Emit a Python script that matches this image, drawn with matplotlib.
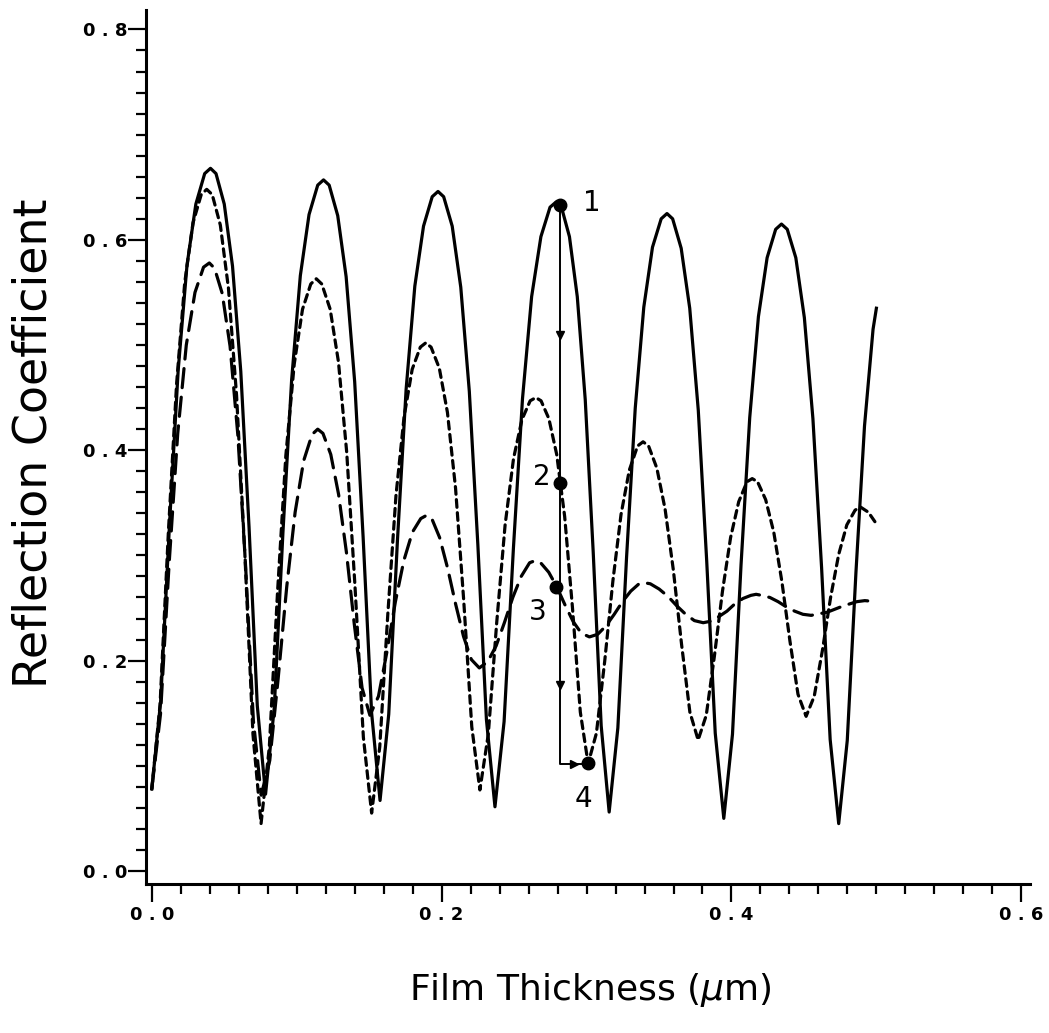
import matplotlib
matplotlib.use("Agg")
import matplotlib.pyplot as plt

# ---------------------------------------------------------------------------
# Data (film thickness in um, reflection coefficient)
# ---------------------------------------------------------------------------

solid_x = [
    0.000, 0.0061, 0.0122, 0.0182, 0.0243, 0.0304, 0.0365, 0.0405,
    0.0443, 0.0500, 0.0557, 0.0614, 0.0671, 0.0728, 0.0785,
    0.0845, 0.0905, 0.0965, 0.1025, 0.1085, 0.1145, 0.1185,
    0.1224, 0.1283, 0.1341, 0.1400, 0.1458, 0.1517, 0.1575,
    0.1635, 0.1695, 0.1755, 0.1815, 0.1875, 0.1935, 0.1975,
    0.2014, 0.2073, 0.2132, 0.2191, 0.2250, 0.2309, 0.2368,
    0.2431, 0.2495, 0.2558, 0.2621, 0.2685, 0.2748, 0.2790,
    0.2827, 0.2882, 0.2936, 0.2991, 0.3046, 0.3101, 0.3156,
    0.3216, 0.3276, 0.3336, 0.3395, 0.3455, 0.3515, 0.3555,
    0.3594, 0.3653, 0.3712, 0.3771, 0.3829, 0.3888, 0.3947,
    0.4007, 0.4066, 0.4126, 0.4186, 0.4246, 0.4305, 0.4345,
    0.4385, 0.4444, 0.4503, 0.4562, 0.4622, 0.4681, 0.4740,
    0.4799, 0.4859, 0.4918, 0.4977, 0.5000,
]
solid_y = [
    0.078, 0.161, 0.329, 0.476, 0.576, 0.634, 0.663, 0.668,
    0.663, 0.634, 0.575, 0.475, 0.327, 0.157, 0.073,
    0.155, 0.322, 0.467, 0.566, 0.624, 0.652, 0.657,
    0.652, 0.623, 0.565, 0.465, 0.318, 0.150, 0.067,
    0.149, 0.314, 0.458, 0.556, 0.613, 0.641, 0.646,
    0.641, 0.613, 0.555, 0.456, 0.310, 0.144, 0.061,
    0.142, 0.306, 0.449, 0.546, 0.603, 0.631, 0.636,
    0.631, 0.603, 0.546, 0.448, 0.303, 0.138, 0.056,
    0.136, 0.298, 0.440, 0.536, 0.593, 0.620, 0.625,
    0.620, 0.592, 0.535, 0.438, 0.295, 0.131, 0.050,
    0.130, 0.291, 0.431, 0.527, 0.583, 0.610, 0.615,
    0.610, 0.583, 0.526, 0.430, 0.288, 0.125, 0.045,
    0.124, 0.284, 0.423, 0.515, 0.535,
]

short_x = [
    0.000, 0.0057, 0.0114, 0.0171, 0.0227, 0.0284, 0.0341, 0.0379,
    0.0417, 0.0473, 0.0529, 0.0585, 0.0642, 0.0698, 0.0754,
    0.0811, 0.0868, 0.0925, 0.0983, 0.1040, 0.1097, 0.1135,
    0.1173, 0.1231, 0.1288, 0.1345, 0.1402, 0.1460, 0.1517,
    0.1573, 0.1629, 0.1685, 0.1741, 0.1797, 0.1853, 0.1890,
    0.1927, 0.1984, 0.2040, 0.2096, 0.2152, 0.2208, 0.2264,
    0.2322, 0.2380, 0.2438, 0.2496, 0.2554, 0.2611, 0.2650,
    0.2686, 0.2740, 0.2794, 0.2849, 0.2903, 0.2957, 0.3011,
    0.3068, 0.3125, 0.3182, 0.3238, 0.3295, 0.3352, 0.3390,
    0.3428, 0.3485, 0.3542, 0.3599, 0.3656, 0.3713, 0.3770,
    0.3826, 0.3882, 0.3938, 0.3994, 0.4050, 0.4107, 0.4143,
    0.4180, 0.4236, 0.4292, 0.4348, 0.4403, 0.4459, 0.4515,
    0.4571, 0.4628, 0.4684, 0.4740, 0.4796, 0.4853, 0.4890,
    0.4945, 0.5000,
]
short_y = [
    0.078, 0.158, 0.321, 0.463, 0.559, 0.616, 0.643, 0.648,
    0.643, 0.614, 0.554, 0.452, 0.302, 0.130, 0.045,
    0.118, 0.266, 0.395, 0.482, 0.534, 0.558, 0.563,
    0.558, 0.534, 0.484, 0.398, 0.271, 0.127, 0.055,
    0.118, 0.245, 0.357, 0.432, 0.477, 0.498, 0.502,
    0.498, 0.478, 0.436, 0.364, 0.258, 0.137, 0.077,
    0.130, 0.236, 0.329, 0.392, 0.429, 0.447, 0.450,
    0.447, 0.430, 0.396, 0.337, 0.250, 0.151, 0.102,
    0.131, 0.199, 0.276, 0.339, 0.381, 0.404, 0.408,
    0.404, 0.383, 0.344, 0.286, 0.215, 0.151, 0.1245,
    0.148, 0.204, 0.266, 0.317, 0.351, 0.370, 0.373,
    0.370, 0.353, 0.322, 0.275, 0.219, 0.168, 0.147,
    0.166, 0.210, 0.260, 0.301, 0.329, 0.343, 0.346,
    0.341, 0.330,
]

long_x = [
    0.000, 0.0060, 0.0119, 0.0179, 0.0238, 0.0298, 0.0357, 0.0397,
    0.0433, 0.0486, 0.0540, 0.0594, 0.0648, 0.0701, 0.0755,
    0.0814, 0.0872, 0.0931, 0.0989, 0.1048, 0.1106, 0.1145,
    0.1181, 0.1235, 0.1289, 0.1343, 0.1397, 0.1451, 0.1505,
    0.1564, 0.1622, 0.1681, 0.1739, 0.1798, 0.1856, 0.1895,
    0.1932, 0.1986, 0.2041, 0.2096, 0.2151, 0.2205, 0.2260,
    0.2318, 0.2376, 0.2433, 0.2491, 0.2549, 0.2607, 0.2645,
    0.2683, 0.2739, 0.2795, 0.2851, 0.2908, 0.2964, 0.3020,
    0.3077, 0.3134, 0.3191, 0.3248, 0.3305, 0.3362, 0.3400,
    0.3440, 0.3501, 0.3562, 0.3623, 0.3684, 0.3744, 0.3805,
    0.3860, 0.3915, 0.3969, 0.4024, 0.4079, 0.4134, 0.4170,
    0.4208, 0.4265, 0.4322, 0.4379, 0.4436, 0.4493, 0.4550,
    0.4661, 0.4772, 0.4865, 0.4920, 0.5000,
]
long_y = [
    0.078, 0.149, 0.291, 0.416, 0.500, 0.550, 0.574, 0.578,
    0.573, 0.549, 0.499, 0.414, 0.288, 0.143, 0.072,
    0.105, 0.183, 0.270, 0.341, 0.390, 0.415, 0.420,
    0.416, 0.396, 0.358, 0.303, 0.235, 0.174, 0.148,
    0.166, 0.208, 0.256, 0.295, 0.322, 0.335, 0.338,
    0.335, 0.317, 0.288, 0.254, 0.223, 0.201, 0.193,
    0.199, 0.214, 0.236, 0.260, 0.280, 0.293, 0.295,
    0.293, 0.284, 0.270, 0.253, 0.237, 0.226, 0.2225,
    0.225, 0.233, 0.244, 0.256, 0.266, 0.273, 0.274,
    0.273, 0.268, 0.261, 0.252, 0.244, 0.238, 0.236,
    0.2375, 0.242, 0.247, 0.254, 0.259, 0.262, 0.263,
    0.262, 0.260, 0.256, 0.251, 0.247, 0.244, 0.243,
    0.246, 0.252, 0.256, 0.257, 0.256,
]

# numbered states 1-4 and the path drawn between them
point_x = [0.2815, 0.2815, 0.2790, 0.3011]
point_y = [0.633, 0.369, 0.270, 0.1023]
point_labels = ["1", "2", "3", "4"]
label_x = [0.3035, 0.2690, 0.2666, 0.2977]
label_y = [0.635, 0.375, 0.246, 0.068]

path_x = [0.2815, 0.2815, 0.3011]
path_y = [0.633, 0.102, 0.102]
arrow_down_y = [0.510, 0.177]
arrow_right_x = [0.2915]

x_ticks = [0.0, 0.2, 0.4, 0.6]
y_ticks = [0.0, 0.2, 0.4, 0.6, 0.8]
x_tick_labels = ["0 . 0", "0 . 2", "0 . 4", "0 . 6"]
y_tick_labels = ["0 . 0", "0 . 2", "0 . 4", "0 . 6", "0 . 8"]

# ---------------------------------------------------------------------------
# Figure
# ---------------------------------------------------------------------------

FIG_W, FIG_H, DPI = 1049, 1033, 100
CURVE_LW = 2.3

fig = plt.figure(figsize=(FIG_W / DPI, FIG_H / DPI), dpi=DPI)
ax = fig.add_axes([146 / FIG_W, 1 - 884 / FIG_H, (1030 - 146) / FIG_W, (884 - 10) / FIG_H])

ax.plot(solid_x, solid_y, color="black", lw=CURVE_LW, solid_joinstyle="round")
ax.plot(short_x, short_y, color="black", lw=CURVE_LW, linestyle=(0, (2.4, 1.7)),
        dash_capstyle="round")
ax.plot(long_x, long_y, color="black", lw=CURVE_LW, linestyle=(0, (6.0, 3.0)),
        dash_capstyle="round")

ax.plot(path_x, path_y, color="black", lw=1.4)
ax.plot([path_x[0]] * len(arrow_down_y), arrow_down_y, linestyle="none",
        marker="v", ms=6, color="black")
ax.plot(arrow_right_x, [path_y[-1]], linestyle="none", marker=">", ms=6, color="black")
ax.plot(point_x, point_y, linestyle="none", marker="o", ms=9, color="black")
for lx, ly, txt in zip(label_x, label_y, point_labels):
    ax.text(lx, ly, txt, fontsize=20, ha="center", va="center")

ax.set_xlim(-0.004, 0.606)
ax.set_ylim(-0.0124, 0.8185)

for side in ["top", "right"]:
    ax.spines[side].set_visible(False)
for side in ["left", "bottom"]:
    ax.spines[side].set_linewidth(2.2)

ax.set_xticks(x_ticks)
ax.set_xticklabels(x_tick_labels)
ax.set_yticks(y_ticks)
ax.set_yticklabels(y_tick_labels)
ax.set_xticks([i * 0.02 for i in range(31)], minor=True)
ax.set_yticks([i * 0.02 for i in range(41)], minor=True)
ax.tick_params(which="major", direction="out", length=13, width=1.6)
ax.tick_params(which="minor", direction="out", length=7, width=1.6)
ax.tick_params(axis="x", which="major", pad=3)
ax.tick_params(axis="y", which="major", pad=0.5)
for lab in ax.get_xticklabels() + ax.get_yticklabels():
    lab.set_fontweight("bold")
    lab.set_fontsize(13)

# axis titles placed in figure pixels to line up with the reference
fig.text(47 / FIG_W, 1 - 443 / FIG_H, "Reflection Coefficient", rotation=90,
         rotation_mode="anchor", ha="center", va="baseline", fontsize=33)
fig.text(590 / FIG_W, 1 - 990 / FIG_H, "Film Thickness ($\\mu$m)",
         ha="center", va="center", fontsize=26)

fig.savefig("out.png", dpi=DPI)
